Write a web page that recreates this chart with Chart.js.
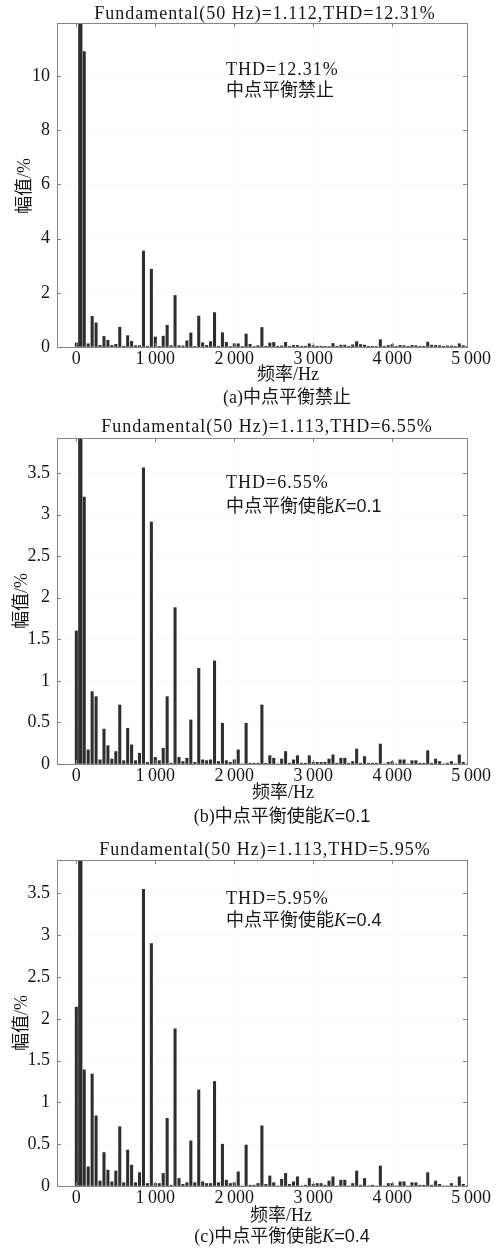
<!DOCTYPE html>
<html>
<head>
<meta charset="utf-8">
<script src="https://cdn.jsdelivr.net/npm/chart.js@4.4.1/dist/chart.umd.min.js"></script>
<style>
  body { margin: 0; background: #fff; }
  canvas { display: block; }
</style>
</head>
<body>
<canvas id="chartA" width="500" height="410"></canvas>
<canvas id="chartB" width="500" height="420"></canvas>
<canvas id="chartC" width="500" height="418"></canvas>
<script>
// harmonic frequencies (Hz) of the FFT bars
const harmonicHz = [
    0, 50, 100, 150, 200, 250, 300, 350, 400, 450,
    500, 550, 600, 650, 700, 750, 800, 850, 900, 950,
    1000, 1050, 1100, 1150, 1200, 1250, 1300, 1350, 1400, 1450,
    1500, 1550, 1600, 1650, 1700, 1750, 1800, 1850, 1900, 1950,
    2000, 2050, 2100, 2150, 2200, 2250, 2300, 2350, 2400, 2450,
    2500, 2550, 2600, 2650, 2700, 2750, 2800, 2850, 2900, 2950,
    3000, 3050, 3100, 3150, 3200, 3250, 3300, 3350, 3400, 3450,
    3500, 3550, 3600, 3650, 3700, 3750, 3800, 3850, 3900, 3950,
    4000, 4050, 4100, 4150, 4200, 4250, 4300, 4350, 4400, 4450,
    4500, 4550, 4600, 4650, 4700, 4750, 4800, 4850, 4900, 4950,
];
const fundamentalHz = 50;

// amplitude in % of fundamental, (a) balance disabled
const ampA = [
    0.15, 100, 10.9, 0.12, 1.13, 0.89, 0.06, 0.39, 0.25, 0.06,
    0.10, 0.73, 0.03, 0.42, 0.21, 0.05, 0.05, 3.54, 0.01, 2.87,
    0.37, 0.01, 0.40, 0.80, 0.05, 1.90, 0.05, 0.04, 0.23, 0.52,
    0.01, 1.14, 0.16, 0.06, 0.20, 1.27, 0.03, 0.53, 0.17, 0.02,
    0.12, 0.12, 0.02, 0.48, 0.10, 0.02, 0.05, 0.72, 0.01, 0.15,
    0.17, 0.01, 0.04, 0.17, 0.01, 0.06, 0.06, 0.01, 0.03, 0.12,
    0.05, 0.03, 0.03, 0.01, 0.02, 0.13, 0.01, 0.07, 0.07, 0.01,
    0.08, 0.20, 0.09, 0.07, 0.01, 0.01, 0.02, 0.27, 0.01, 0.06,
    0.09, 0.01, 0.06, 0.05, 0.01, 0.06, 0.05, 0.01, 0.01, 0.18,
    0.07, 0.06, 0.05, 0.01, 0.04, 0.04, 0.01, 0.12, 0.05, 0.01,
];
// (b) balance enabled K=0.1
const ampB = [
    1.60, 100, 3.21, 0.17, 0.87, 0.81, 0.05, 0.42, 0.22, 0.06,
    0.15, 0.71, 0.04, 0.43, 0.23, 0.04, 0.13, 3.56, 0.02, 2.91,
    0.08, 0.04, 0.19, 0.81, 0.01, 1.88, 0.08, 0.03, 0.07, 0.53,
    0.02, 1.15, 0.05, 0.04, 0.05, 1.24, 0.03, 0.49, 0.04, 0.02,
    0.05, 0.17, 0.00, 0.49, 0.01, 0.01, 0.01, 0.71, 0.01, 0.10,
    0.07, 0.00, 0.06, 0.15, 0.01, 0.05, 0.10, 0.01, 0.01, 0.10,
    0.02, 0.02, 0.02, 0.02, 0.06, 0.11, 0.01, 0.07, 0.07, 0.01,
    0.03, 0.18, 0.01, 0.09, 0.01, 0.01, 0.01, 0.24, 0.00, 0.02,
    0.03, 0.00, 0.05, 0.05, 0.00, 0.04, 0.04, 0.01, 0.01, 0.16,
    0.01, 0.06, 0.03, 0.00, 0.01, 0.03, 0.00, 0.11, 0.02, 0.00,
];
// (c) balance enabled K=0.4
const ampC = [
    2.14, 100, 1.39, 0.23, 1.34, 0.84, 0.06, 0.40, 0.19, 0.05,
    0.18, 0.71, 0.04, 0.43, 0.25, 0.04, 0.16, 3.55, 0.03, 2.90,
    0.03, 0.03, 0.15, 0.81, 0.01, 1.88, 0.09, 0.02, 0.04, 0.54,
    0.04, 1.15, 0.05, 0.03, 0.03, 1.25, 0.04, 0.50, 0.07, 0.03,
    0.04, 0.17, 0.00, 0.49, 0.01, 0.01, 0.03, 0.72, 0.02, 0.12,
    0.04, 0.00, 0.08, 0.15, 0.02, 0.05, 0.11, 0.00, 0.01, 0.09,
    0.02, 0.03, 0.03, 0.01, 0.06, 0.11, 0.00, 0.07, 0.07, 0.00,
    0.03, 0.18, 0.01, 0.09, 0.00, 0.01, 0.00, 0.24, 0.00, 0.03,
    0.03, 0.00, 0.05, 0.05, 0.00, 0.04, 0.04, 0.01, 0.01, 0.16,
    0.01, 0.06, 0.02, 0.00, 0.00, 0.03, 0.00, 0.11, 0.02, 0.00,
];

// tick labels
const xTicksHz = [0, 1000, 2000, 3000, 4000, 5000];
const yTicksA = [0, 2, 4, 6, 8, 10];
const yTicksBC = [0, 0.5, 1, 1.5, 2, 2.5, 3, 3.5];

const LATIN = '"Liberation Serif", "Noto Sans CJK SC", serif';
const F18 = '18px ' + LATIN;
const F18I = 'italic 18px "Liberation Serif", serif';
const F18S = '18px "Liberation Sans", sans-serif';
const INK = '#161616';
const GRID = 'rgba(0,0,0,0.022)';

// draw a line of mixed-font text
function drawRich(ctx, parts, x, y, align, spacing) {
    const widths = parts.map(([t, f]) => {
        ctx.font = f;
        ctx.letterSpacing = spacing;
        return ctx.measureText(t).width;
    });
    const total = widths.reduce((s, w) => s + w, 0);
    let cx = align === 'center' ? x - total / 2 : x;
    ctx.textAlign = 'left';
    ctx.textBaseline = 'middle';
    parts.forEach(([t, f], i) => {
        ctx.font = f;
        ctx.letterSpacing = spacing;
        ctx.fillText(t, cx, y);
        cx += widths[i];
    });
}

// box, inward ticks and the texts round each panel
const panelDecor = {
    id: 'panelDecor',
    afterDraw(chart, args, o) {
        const { ctx, chartArea: a, scales: { x, y } } = chart;
        ctx.save();
        ctx.strokeStyle = '#858585';
        ctx.lineWidth = 1;
        ctx.strokeRect(Math.round(a.left) + 0.5, Math.round(a.top) + 0.5,
            Math.round(a.right - a.left) - 1, Math.round(a.bottom - a.top));
        ctx.beginPath();
        y.ticks.forEach((t) => {
            const py = Math.round(y.getPixelForValue(t.value)) + 0.5;
            ctx.moveTo(a.left, py); ctx.lineTo(a.left + 4, py);
            ctx.moveTo(a.right, py); ctx.lineTo(a.right - 5, py);
        });
        x.ticks.forEach((t) => {
            const px = Math.round(x.getPixelForValue(t.value)) + 0.5;
            if (px > a.right) return;
            ctx.moveTo(px, a.bottom); ctx.lineTo(px, a.bottom - 4);
            ctx.moveTo(px, a.top); ctx.lineTo(px, a.top + 4);
        });
        ctx.stroke();

        ctx.fillStyle = INK;
        drawRich(ctx, [[o.title, F18]], o.titleAt[0], o.titleAt[1], 'center', '1px');
        o.notes.forEach((n, i) => {
            drawRich(ctx, n, o.notesAt[i][0], o.notesAt[i][1], 'left', i === 0 ? '1px' : '0px');
        });
        drawRich(ctx, [['频率/Hz', F18]], o.xLabelAt[0], o.xLabelAt[1], 'center', '0px');
        drawRich(ctx, o.caption, o.captionAt[0], o.captionAt[1], 'center', '0px');
        ctx.translate(o.yLabelAt[0], o.yLabelAt[1]);
        ctx.rotate(-Math.PI / 2);
        drawRich(ctx, [['幅值/%', F18]], 0, 0, 'center', '0px');
        ctx.restore();
    },
};

function makePanel(id, amps, yMax, yTicks, topPad, xAxisH, decor) {
    const harmonics = [];
    const fundamental = [];
    harmonicHz.forEach((hz, i) => {
        (hz === fundamentalHz ? fundamental : harmonics).push({ x: hz, y: amps[i] });
    });
    return new Chart(document.getElementById(id), {
        type: 'bar',
        data: {
            datasets: [
                { data: harmonics, backgroundColor: '#2e2e2e', barThickness: 2.4, grouped: false },
                { data: fundamental, backgroundColor: '#2e2e2e', barThickness: 3.6, grouped: false },
            ],
        },
        options: {
            responsive: false,
            animation: false,
            layout: { padding: { top: topPad, left: 0, right: 32, bottom: 0 } },
            plugins: {
                legend: { display: false },
                tooltip: { enabled: false },
                panelDecor: decor,
            },
            scales: {
                x: {
                    type: 'linear',
                    min: -245,
                    max: 4960,
                    offset: false,
                    afterBuildTicks: (s) => { s.ticks = xTicksHz.map((v) => ({ value: v })); },
                    afterFit: (s) => { s.height = xAxisH; },
                    ticks: {
                        padding: 1,
                        maxRotation: 0,
                        autoSkip: false,
                        color: INK,
                        font: { family: LATIN, size: 18 },
                        callback: (v) => (v >= 1000 ? Math.floor(v / 1000) + '\u2009000' : String(v)),
                    },
                    grid: {
                        offset: false,
                        drawTicks: false,
                        color: (c) => (c.tick && c.tick.value > 4960 ? 'rgba(0,0,0,0)' : GRID),
                    },
                    border: { display: false },
                },
                y: {
                    min: 0,
                    max: yMax,
                    afterBuildTicks: (s) => { s.ticks = yTicks.map((v) => ({ value: v })); },
                    afterFit: (s) => { s.width = 57; },
                    ticks: {
                        padding: 7,
                        color: INK,
                        font: { family: LATIN, size: 18 },
                        callback: (v) => String(v),
                    },
                    grid: { drawTicks: false, color: GRID },
                    border: { display: false },
                },
            },
        },
        plugins: [panelDecor],
    });
}

makePanel('chartA', ampA, 11.95, yTicksA, 23, 63, {
    title: 'Fundamental(50 Hz)=1.112,THD=12.31%',
    titleAt: [265, 14],
    notes: [[['THD=12.31%', F18]], [['中点平衡禁止', F18]]],
    notesAt: [[226, 70], [226, 91]],
    xLabelAt: [288, 375],
    caption: [['(a)中点平衡禁止', F18]],
    captionAt: [287, 398],
    yLabelAt: [25, 186],
});

makePanel('chartB', ampB, 3.92, yTicksBC, 28, 66, {
    title: 'Fundamental(50 Hz)=1.113,THD=6.55%',
    titleAt: [267, 17],
    notes: [[['THD=6.55%', F18]], [['中点平衡使能', F18], ['K', F18I], ['=0.1', F18S]]],
    notesAt: [[226, 73], [226, 97]],
    xLabelAt: [283, 383],
    caption: [['(b)中点平衡使能', F18], ['K', F18I], ['=0.1', F18S]],
    captionAt: [282, 407],
    yLabelAt: [22, 191],
});

makePanel('chartC', ampC, 3.9, yTicksBC, 30, 62, {
    title: 'Fundamental(50 Hz)=1.113,THD=5.95%',
    titleAt: [265, 20],
    notes: [[['THD=5.95%', F18]], [['中点平衡使能', F18], ['K', F18I], ['=0.4', F18S]]],
    notesAt: [[226, 69], [226, 91]],
    xLabelAt: [281, 386],
    caption: [['(c)中点平衡使能', F18], ['K', F18I], ['=0.4', F18S]],
    captionAt: [282, 407],
    yLabelAt: [22, 193],
});
</script>
</body>
</html>
